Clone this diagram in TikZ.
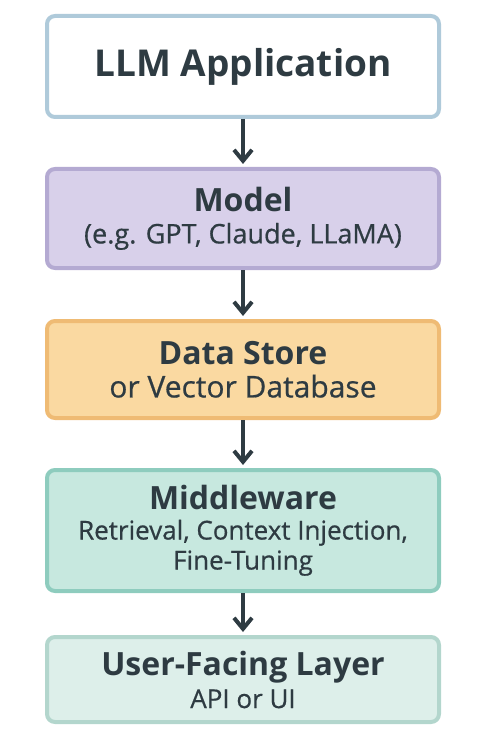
\documentclass[tikz,border=0pt]{standalone}
\usepackage{fontspec}
\setmainfont{Open Sans}
\newfontfamily\subfont{Open Sans}[FakeBold=0.6]
\usepackage{tikz}
\usetikzlibrary{positioning,arrows.meta}

\definecolor{ink}{HTML}{2E3B42}
\definecolor{appline}{HTML}{AFCADA}
\definecolor{modelfill}{HTML}{D8D0EA}
\definecolor{modelline}{HTML}{B4AAD2}
\definecolor{storefill}{HTML}{FAD9A1}
\definecolor{storeline}{HTML}{EFBB74}
\definecolor{midfill}{HTML}{C7E8DF}
\definecolor{midline}{HTML}{8ECCBE}
\definecolor{userfill}{HTML}{DDEFEA}
\definecolor{userline}{HTML}{B3D6CD}

\begin{document}
\begin{tikzpicture}[x=1pt,y=1pt,
    layer/.style={rectangle,rounded corners=8pt,line width=4pt,minimum width=392pt,
                  align=center,inner sep=0pt,text=ink},
    flow/.style={draw=ink,line width=4pt,-{Straight Barb[length=11pt,width=18pt,line width=4pt]}}]
        \useasboundingbox (0,0) rectangle (497,-738);
        \node [layer,draw=appline,fill=white,minimum height=101pt] (app) at (243,-66.5)
            {\fontsize{37}{40}\selectfont\bfseries LLM Application};
        \node [layer,draw=modelline,fill=modelfill,minimum height=99pt,below=48pt of app,
               font=\fontsize{27}{32}\selectfont\subfont] (model)
            {{\fontsize{32}{32}\selectfont\normalfont\bfseries Model}\\(e.g. GPT, Claude, LLaMA)};
        \node [layer,draw=storeline,fill=storefill,minimum height=97pt,below=49pt of model,
               font=\fontsize{30}{33}\selectfont\subfont] (store)
            {{\fontsize{32}{33}\selectfont\normalfont\bfseries Data Store}\\or Vector Database};
        \node [layer,draw=midline,fill=midfill,minimum height=121pt,below=48pt of store,
               font=\fontsize{26}{30}\selectfont\subfont] (mid)
            {{\fontsize{32}{30}\selectfont\normalfont\bfseries Middleware}\\Retrieval, Context Injection,\\Fine-Tuning};
        \node [layer,draw=userline,fill=userfill,minimum height=85pt,below=42pt of mid,
               font=\fontsize{26}{33}\selectfont\subfont] (user)
            {{\fontsize{32}{33}\selectfont\normalfont\bfseries User-Facing Layer}\\API or UI};

        \draw [flow] (app.south) -- ([yshift=3pt]model.north);
        \draw [flow] (model.south) -- ([yshift=3pt]store.north);
        \draw [flow] (store.south) -- ([yshift=3pt]mid.north);
        \draw [flow] (mid.south) -- ([yshift=3pt]user.north);
\end{tikzpicture}
\end{document}
